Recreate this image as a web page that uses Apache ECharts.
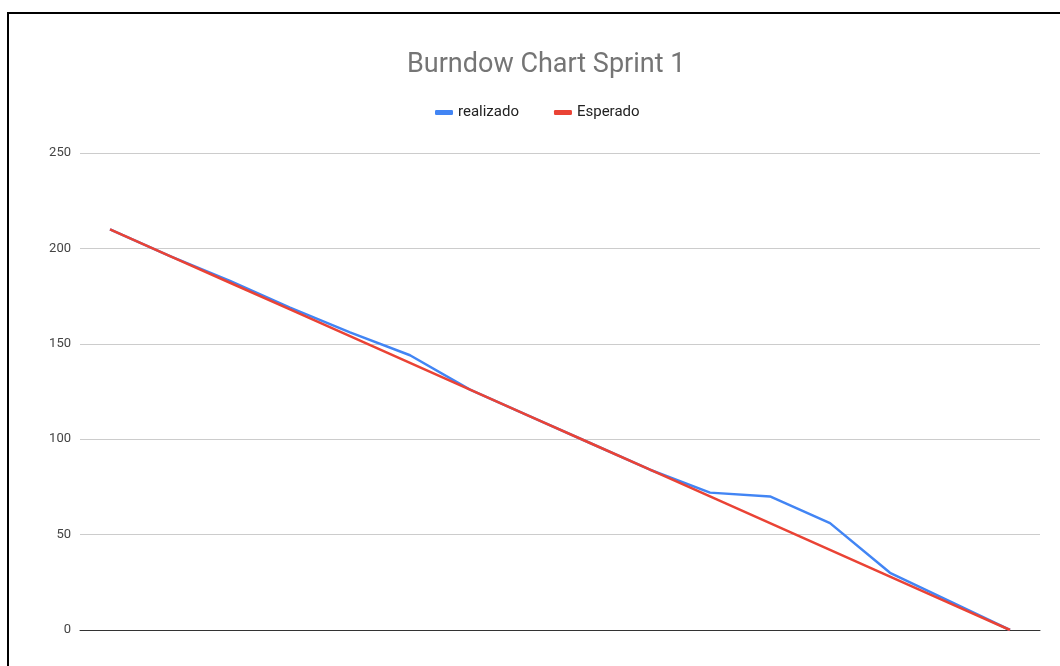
<!DOCTYPE html>
<html>
<head>
<meta charset="utf-8">
<script src="https://cdn.jsdelivr.net/npm/echarts@6/dist/echarts.min.js"></script>
<style>
html,body{margin:0;padding:0;background:#fff;}
#frame{position:absolute;left:7px;top:12px;width:1100px;height:700px;border-top:2px solid #000;border-left:2px solid #000;box-sizing:border-box;}
#chart{position:absolute;left:0;top:0;width:1060px;height:666px;}
</style>
</head>
<body>
<div id="frame"></div>
<div id="chart"></div>
<script>
const categories = ['1','2','3','4','5','6','7','8','9','10','11','12','13','14','15','16'];
const realizado = [210, 196, 183, 169, 156, 144, 126, 112, 98, 84, 72, 70, 56, 30, 15, 0];
const esperado = [210, 196, 182, 168, 154, 140, 126, 112, 98, 84, 70, 56, 42, 28, 14, 0];
const yTicks = [0, 50, 100, 150, 200, 250];

const chart = echarts.init(document.getElementById('chart'), null, {renderer: 'canvas'});
chart.setOption({
  backgroundColor: 'transparent',
  animation: false,
  title: {
    text: 'Burndow Chart Sprint 1',
    left: 402,
    top: 47,
    textStyle: {fontFamily: 'Roboto', fontSize: 27, fontWeight: 'normal', color: '#757575'}
  },
  legend: {
    top: 100,
    left: 430,
    icon: 'roundRect',
    itemWidth: 18,
    itemHeight: 5,
    itemGap: 35,
    textStyle: {fontFamily: 'Roboto', fontSize: 15, color: '#222'},
    data: ['realizado', 'Esperado']
  },
  grid: {left: 80, right: 20, top: 153, bottom: 36, containLabel: false},
  xAxis: {
    type: 'category',
    data: categories,
    boundaryGap: true,
    axisLine: {show: true, lineStyle: {color: '#333', width: 1}},
    axisTick: {show: false},
    axisLabel: {show: false},
    splitLine: {show: false}
  },
  yAxis: {
    type: 'value',
    min: yTicks[0],
    max: yTicks[yTicks.length - 1],
    interval: 50,
    axisLine: {show: false},
    axisTick: {show: false},
    axisLabel: {fontFamily: 'Roboto', fontSize: 13, color: '#444', margin: 9},
    splitLine: {lineStyle: {color: '#cccccc', width: 1}}
  },
  series: [
    {
      name: 'realizado',
      type: 'line',
      data: realizado,
      symbol: 'none',
      lineStyle: {color: '#4285f4', width: 2.5},
      itemStyle: {color: '#4285f4'},
      z: 2
    },
    {
      name: 'Esperado',
      type: 'line',
      data: esperado,
      symbol: 'none',
      lineStyle: {color: '#ea4335', width: 2.5},
      itemStyle: {color: '#ea4335'},
      z: 3
    }
  ]
});
</script>
</body>
</html>
